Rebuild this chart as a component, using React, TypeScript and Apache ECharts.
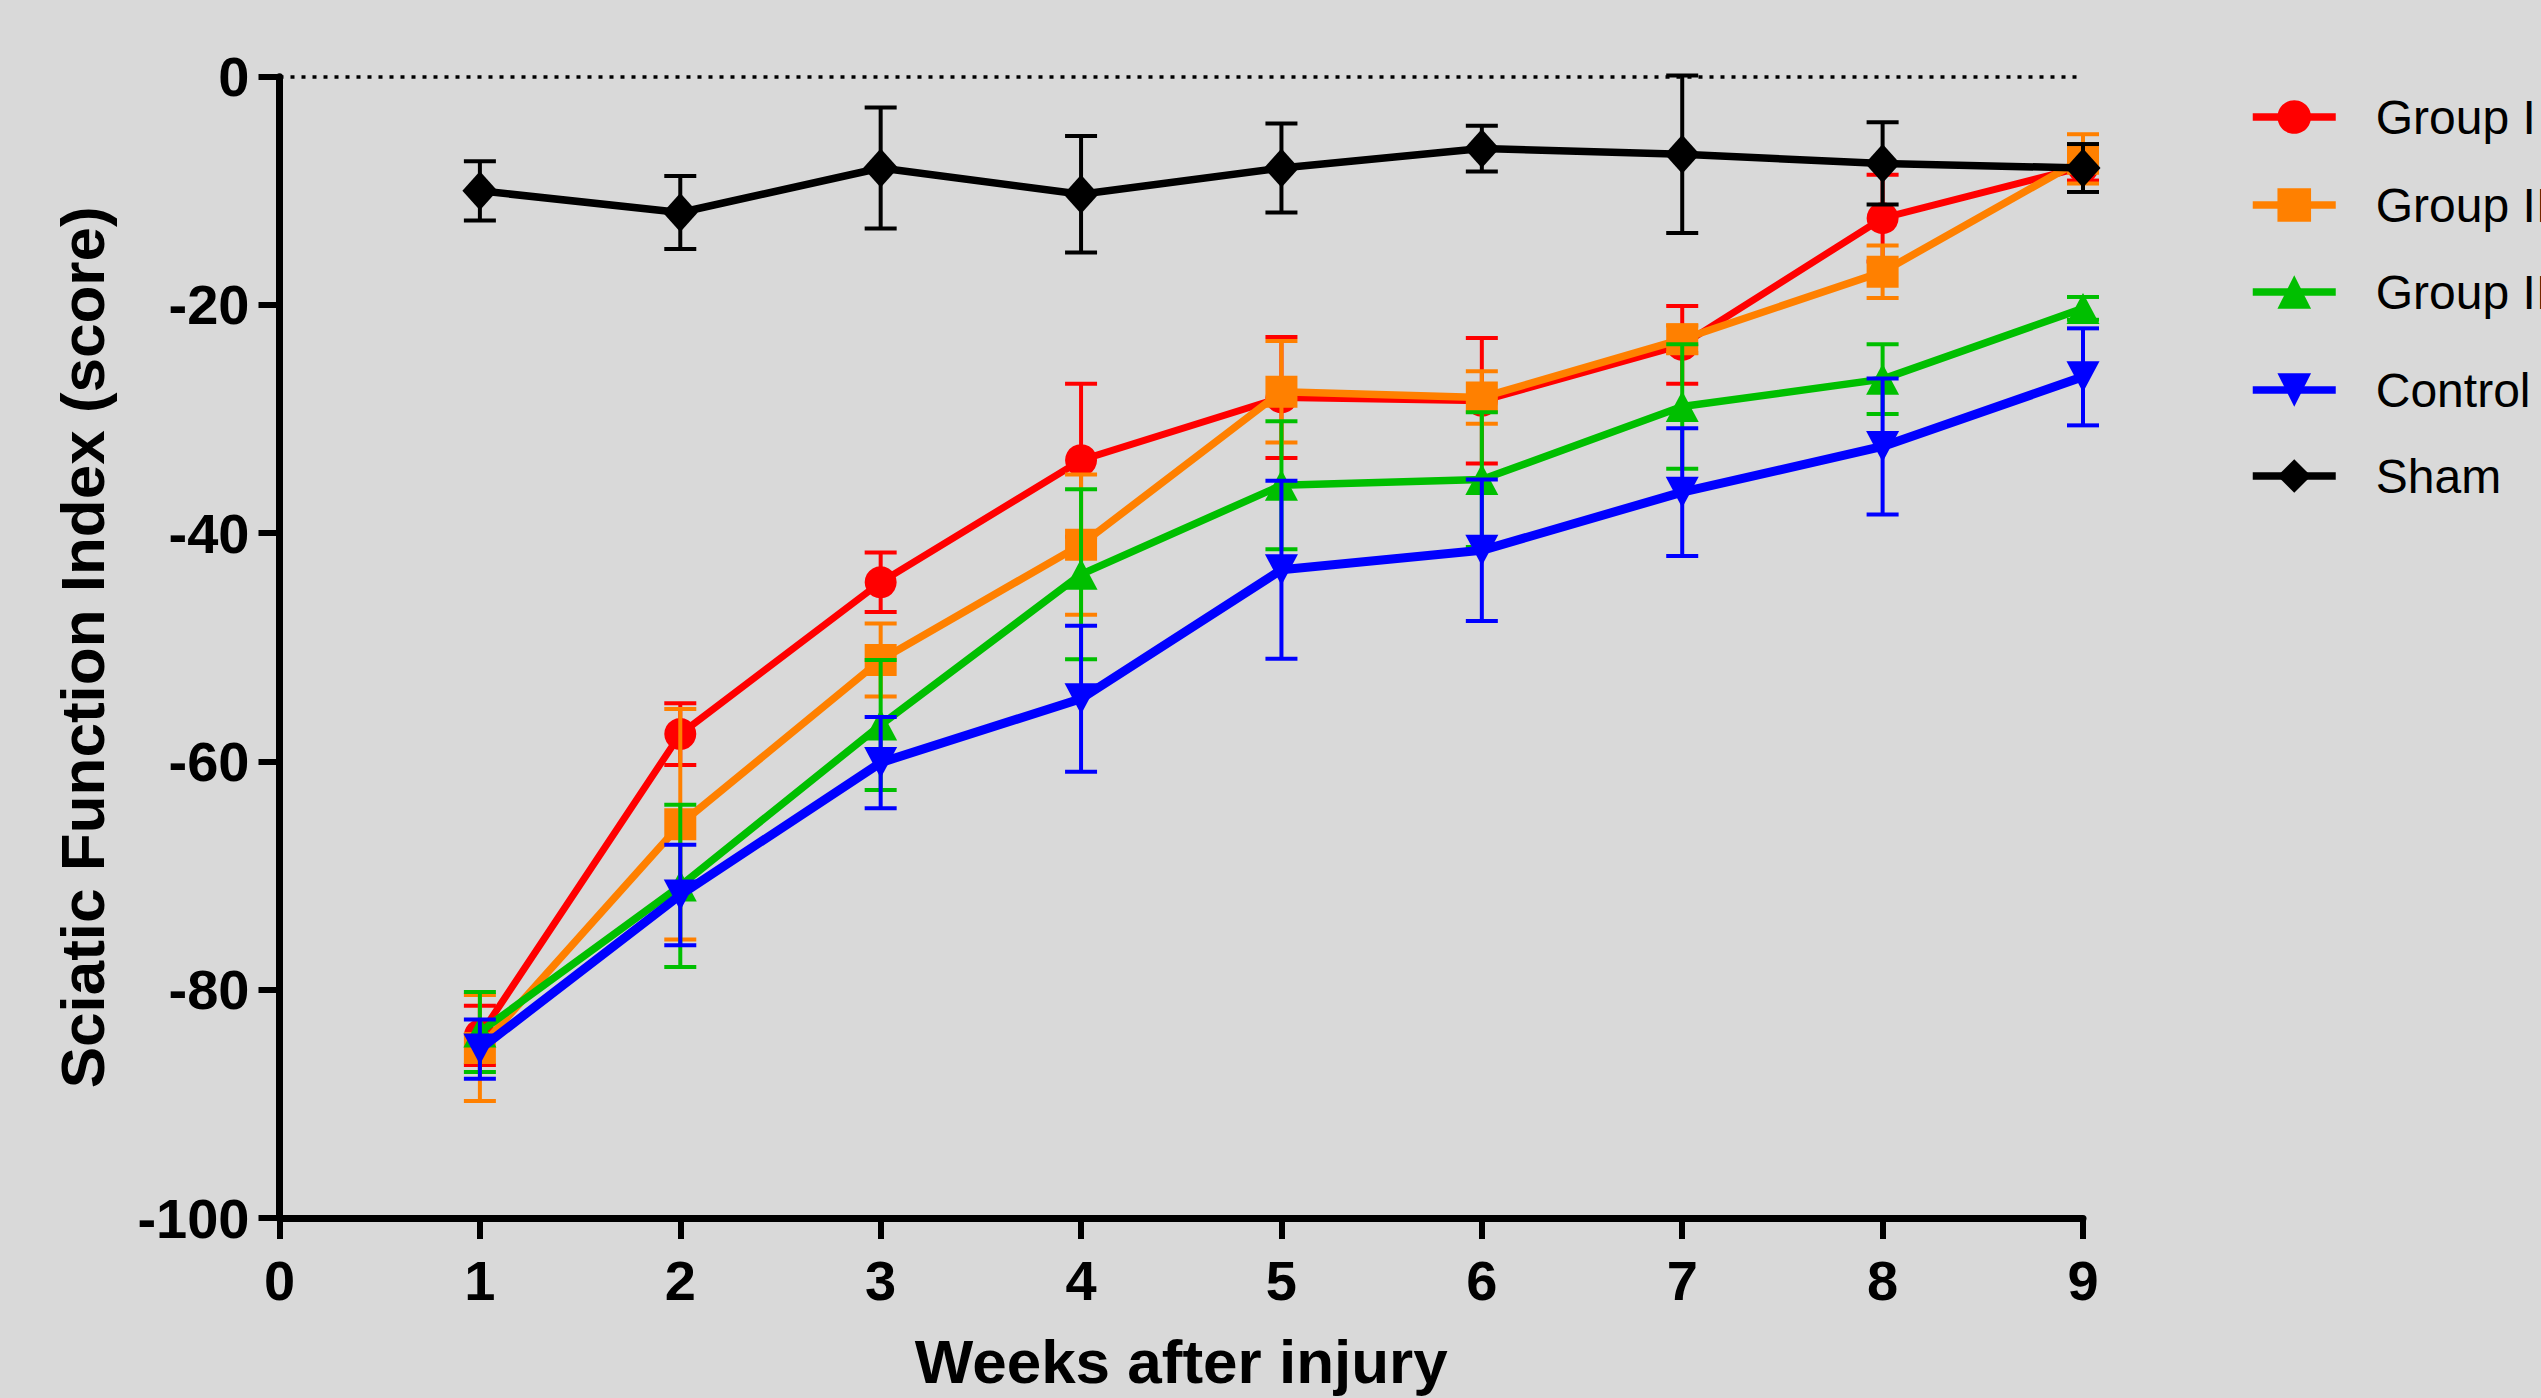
import React, { useEffect, useRef } from "react";
import * as echarts from "echarts";

const weeks = [1, 2, 3, 4, 5, 6, 7, 8, 9];
const seriesNames = ["Group I", "Group II", "Group III", "Control", "Sham"];
const groupIMean = [-84.0, -57.6, -44.3, -33.6, -28.1, -28.4, -23.5, -12.4, -7.9];
const groupIErr = [2.6, 2.7, 2.6, 6.7, 5.3, 5.5, 3.4, 3.8, 1.2];
const groupIIMean = [-85.1, -65.5, -51.1, -41.0, -27.6, -28.1, -23.0, -17.1, -7.2];
const groupIIErr = [4.65, 10.1, 3.2, 6.15, 4.45, 2.3, 1.2, 2.3, 2.16];
const groupIIIMean = [-83.7, -70.9, -56.8, -43.6, -35.8, -35.3, -28.9, -26.5, -20.3];
const groupIIIErr = [3.5, 7.1, 5.7, 7.45, 5.6, 5.9, 5.45, 3.05, 1.0];
const controlMean = [-85.2, -71.7, -60.1, -54.5, -43.2, -41.5, -36.4, -32.4, -26.3];
const controlErr = [2.6, 4.4, 4.0, 6.4, 7.8, 6.2, 5.6, 5.95, 4.25];
const shamMean = [-10.0, -11.9, -8.0, -10.3, -8.0, -6.3, -6.8, -7.6, -8.0];
const shamErr = [2.6, 3.2, 5.3, 5.1, 3.9, 2.0, 6.9, 3.6, 2.1];
const yTicks = [-100, -80, -60, -40, -20, 0];
const xTicks = [0, 1, 2, 3, 4, 5, 6, 7, 8, 9];

const FONT = "'Liberation Sans', Arial, Helvetica, sans-serif";

type Spec = {
  name: string;
  mean: number[];
  err: number[];
  color: string;
  symbol: string;
  symbolSize: number | number[];
  rotate: number;
  width: number;
};

const specs: Spec[] = [
  { name: seriesNames[0], mean: groupIMean, err: groupIErr, color: "#ff0000", symbol: "circle", symbolSize: 32, rotate: 0, width: 7 },
  { name: seriesNames[1], mean: groupIIMean, err: groupIIErr, color: "#ff8000", symbol: "rect", symbolSize: 32, rotate: 0, width: 7.5 },
  { name: seriesNames[2], mean: groupIIIMean, err: groupIIIErr, color: "#00bf00", symbol: "triangle", symbolSize: [33, 31], rotate: 0, width: 7.5 },
  { name: seriesNames[3], mean: controlMean, err: controlErr, color: "#0000ff", symbol: "triangle", symbolSize: [33, 31], rotate: 180, width: 9 },
  { name: seriesNames[4], mean: shamMean, err: shamErr, color: "#000000", symbol: "diamond", symbolSize: [35, 39], rotate: 0, width: 7.5 },
];

export default function App() {
  const ref = useRef<HTMLDivElement>(null);

  useEffect(() => {
    if (!ref.current) return;
    const chart = echarts.init(ref.current, undefined, { renderer: "svg" });

    const series: any[] = [];
    specs.forEach((s, i) => {
      const z = 2 + i;
      const line: any = {
        name: s.name,
        type: "line",
        z,
        data: weeks.map((w, k) => [w, s.mean[k]]),
        symbol: s.symbol,
        symbolSize: s.symbolSize,
        symbolRotate: s.rotate,
        showSymbol: true,
        lineStyle: { color: s.color, width: s.width },
        itemStyle: { color: s.color },
        emphasis: { disabled: true },
        silent: true,
      };
      if (s.name === "Sham") {
        line.markLine = {
          silent: true,
          symbol: ["none", "none"],
          label: { show: false },
          lineStyle: { color: "#000", type: [4, 7], width: 3.5 },
          data: [{ yAxis: 0 }],
        };
      }
      series.push(line);
      series.push({
        name: s.name + " SEM",
        type: "custom",
        z,
        silent: true,
        encode: { x: 0, y: 1 },
        data: weeks.map((w, k) => [w, s.mean[k], s.err[k]]),
        renderItem: (params: any, api: any) => {
          const x = api.value(0);
          const m = api.value(1);
          const e = api.value(2);
          const top = api.coord([x, m + e]);
          const bot = api.coord([x, m - e]);
          const hw = 16;
          const st = { stroke: s.color, lineWidth: 4, fill: "none" };
          return {
            type: "group",
            children: [
              { type: "line", shape: { x1: top[0], y1: top[1], x2: bot[0], y2: bot[1] }, style: st },
              { type: "line", shape: { x1: top[0] - hw, y1: top[1], x2: top[0] + hw, y2: top[1] }, style: st },
              { type: "line", shape: { x1: bot[0] - hw, y1: bot[1], x2: bot[0] + hw, y2: bot[1] }, style: st },
            ],
          };
        },
      });
    });

    const legendCenters = [114, 202, 289, 387, 473];
    const legends = seriesNames.map((n, i) => ({
      data: [n],
      orient: "vertical",
      left: 2249,
      top: legendCenters[i] - 21,
      itemWidth: 83,
      itemHeight: 42,
      padding: 0,
      selectedMode: false,
      lineStyle: { width: 7.5 },
      textStyle: { fontSize: 48, color: "#000", fontFamily: FONT, padding: [0, 0, 0, 35] },
    }));

    chart.setOption({
      animation: false,
      backgroundColor: "#d9d9d9",
      textStyle: { fontFamily: FONT },
      legend: legends,
      grid: { left: 279.5, top: 76.7, right: 458, bottom: 180, containLabel: false },
      xAxis: {
        type: "value",
        min: xTicks[0],
        max: xTicks[xTicks.length - 1],
        interval: 1,
        name: "Weeks after injury",
        nameLocation: "middle",
        nameGap: 112,
        nameTextStyle: { fontSize: 62, fontWeight: "bold", color: "#000", fontFamily: FONT },
        axisLine: { show: true, onZero: false, lineStyle: { color: "#000", width: 7 } },
        axisTick: { show: true, length: 21, lineStyle: { color: "#000", width: 6 } },
        axisLabel: { fontSize: 56, fontWeight: "bold", color: "#000", margin: 34, fontFamily: FONT },
        splitLine: { show: false },
      },
      yAxis: {
        type: "value",
        min: yTicks[0],
        max: yTicks[yTicks.length - 1],
        interval: 20,
        name: "Sciatic Function Index (score)",
        nameLocation: "middle",
        nameGap: 166,
        nameRotate: 90,
        nameTextStyle: { fontSize: 62, fontWeight: "bold", color: "#000", fontFamily: FONT },
        axisLine: { show: true, onZero: false, lineStyle: { color: "#000", width: 7 } },
        axisTick: { show: true, length: 21, lineStyle: { color: "#000", width: 6 } },
        axisLabel: { fontSize: 56, fontWeight: "bold", color: "#000", margin: 30, fontFamily: FONT },
        splitLine: { show: false },
      },
      series,
    });

    return () => chart.dispose();
  }, []);

  return (
    <div
      ref={ref}
      style={{ position: "fixed", left: 0, top: 0, width: "2541px", height: "1398px", background: "#d9d9d9" }}
    />
  );
}
